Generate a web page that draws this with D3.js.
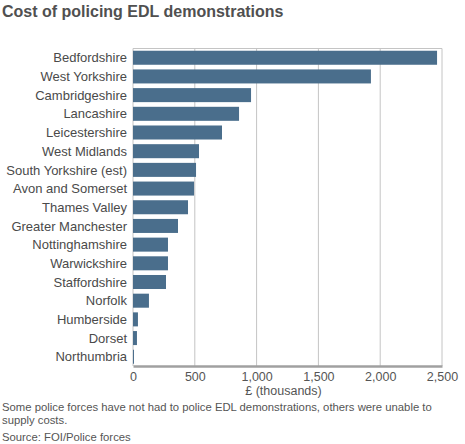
<!DOCTYPE html>
<html>
<head>
<meta charset="utf-8">
<script src="https://cdn.jsdelivr.net/npm/d3@7"></script>
<style>
  body { margin: 0; background: #fff; }
  svg { font-family: "Liberation Sans", Arial, sans-serif; }
</style>
</head>
<body>
<script>
const width = 465;
const height = 444;

// Police forces and cost in £ thousands
const forces = [
  "Bedfordshire", "West Yorkshire", "Cambridgeshire", "Lancashire",
  "Leicestershire", "West Midlands", "South Yorkshire (est)", "Avon and Somerset",
  "Thames Valley", "Greater Manchester", "Nottinghamshire", "Warwickshire",
  "Staffordshire", "Norfolk", "Humberside", "Dorset", "Northumbria"
];
const costs = [2460, 1925, 955, 858, 720, 534, 510, 494, 445, 364, 283, 283, 267, 129, 40, 32, 8];
const xTicks = [0, 500, 1000, 1500, 2000, 2500];

const margin = {top: 48.5, right: 23, bottom: 78, left: 133};

const svg = d3.select("body")
  .append("svg")
  .attr("width", width)
  .attr("height", height);

const x = d3.scaleLinear()
  .domain([0, 2500])
  .range([margin.left, width - margin.right]);

const y = d3.scaleBand()
  .domain(forces)
  .range([margin.top, height - margin.bottom])
  .paddingInner(0.25)
  .paddingOuter(0.12);

// title
svg.append("text")
  .attr("x", 2)
  .attr("y", 17)
  .attr("font-size", 16)
  .attr("font-weight", "bold")
  .attr("fill", "#505050")
  .text("Cost of policing EDL demonstrations");

// frame + gridlines
svg.append("line")
  .attr("x1", x(0)).attr("x2", x(2500))
  .attr("y1", margin.top).attr("y2", margin.top)
  .attr("stroke", "#c4c4c4");

svg.append("g")
  .selectAll("line")
  .data(xTicks)
  .join("line")
  .attr("x1", d => x(d)).attr("x2", d => x(d))
  .attr("y1", margin.top).attr("y2", height - margin.bottom)
  .attr("stroke", "#c4c4c4");

// bars
svg.append("g")
  .selectAll("rect")
  .data(forces)
  .join("rect")
  .attr("x", x(0))
  .attr("y", d => y(d))
  .attr("width", (d, i) => x(costs[i]) - x(0))
  .attr("height", y.bandwidth())
  .attr("fill", "#4a6e8c");

// category labels
svg.append("g")
  .selectAll("text")
  .data(forces)
  .join("text")
  .attr("x", x(0) - 6)
  .attr("y", d => y(d) + y.bandwidth() / 2)
  .attr("dy", "0.36em")
  .attr("text-anchor", "end")
  .attr("font-size", 13)
  .attr("fill", "#4a4a4a")
  .text(d => d);

// x axis
const xAxis = svg.append("g")
  .attr("transform", `translate(0,${height - margin.bottom})`)
  .call(d3.axisBottom(x).tickValues(xTicks).tickSize(0).tickPadding(6)
    .tickFormat(d3.format(",")));
xAxis.select(".domain").attr("stroke", "#a0a0a0").attr("stroke-width", 2.5);
xAxis.selectAll("text")
  .attr("font-size", 12.5)
  .attr("fill", "#555")
  .style("font-family", "'Liberation Sans', Arial, sans-serif");

svg.append("text")
  .attr("x", (x(0) + x(2500)) / 2 - 4)
  .attr("y", 395)
  .attr("text-anchor", "middle")
  .attr("font-size", 12.5)
  .attr("fill", "#555")
  .text("£ (thousands)");

// notes
const notes = [
  {text: "Some police forces have not had to police EDL demonstrations, others were unable to", y: 411},
  {text: "supply costs.", y: 423.5},
  {text: "Source: FOI/Police forces", y: 441}
];
svg.append("g")
  .selectAll("text")
  .data(notes)
  .join("text")
  .attr("x", 2)
  .attr("y", d => d.y)
  .attr("font-size", 11.3)
  .attr("fill", "#555")
  .text(d => d.text);
</script>
</body>
</html>
